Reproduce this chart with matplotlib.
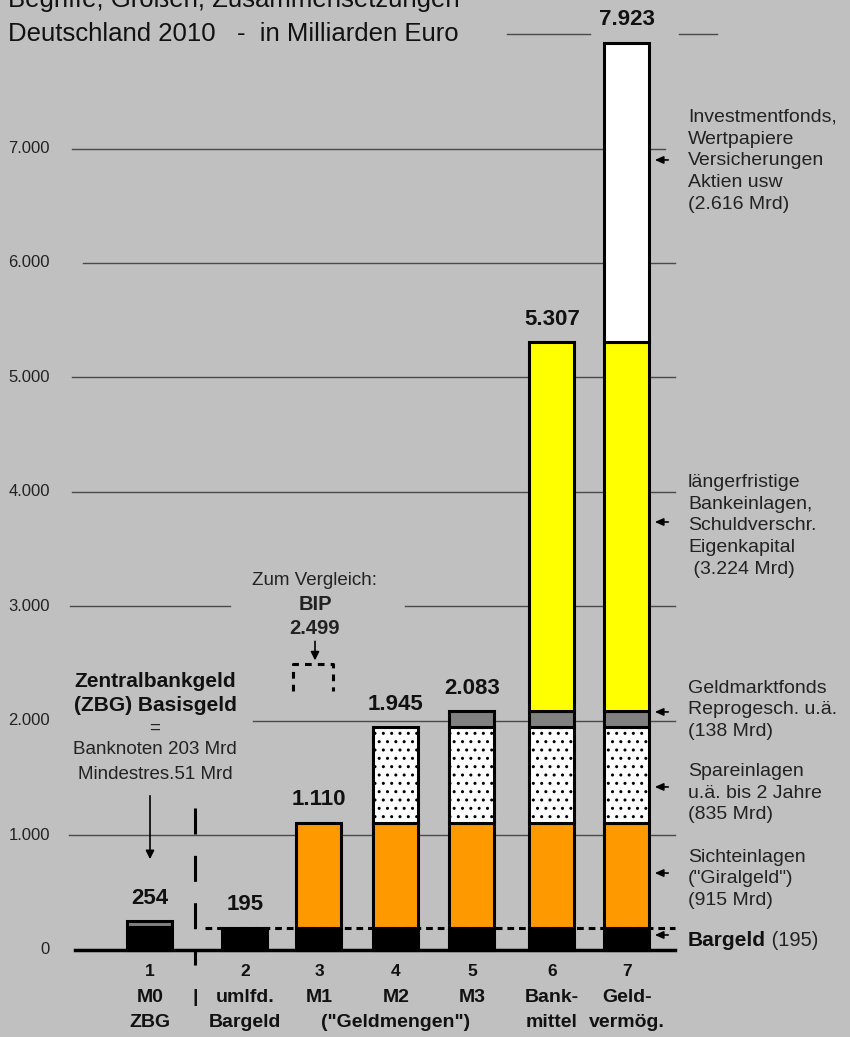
import matplotlib.pyplot as plt

plt.rcParams['font.family'] = ['Liberation Sans', 'DejaVu Sans']

BG = '#C0C0C0'

# data (Mrd Euro, Deutschland 2010)
nums = ['1', '2', '3', '4', '5', '6', '7']
row2 = ['M0', 'umlfd.', 'M1', 'M2', 'M3', 'Bank-', 'Geld-']
row3 = ['ZBG', 'Bargeld', '', '', '', 'mittel', 'vermög.']
totals = [254, 195, 1110, 1945, 2083, 5307, 7923]
total_labels = ['254', '195', '1.110', '1.945', '2.083', '5.307', '7.923']

bargeld = [203, 195, 195, 195, 195, 195, 195]
mindestres = [51, 0, 0, 0, 0, 0, 0]
sicht = [0, 0, 915, 915, 915, 915, 915]
spar = [0, 0, 0, 835, 835, 835, 835]
geldmarkt = [0, 0, 0, 0, 138, 138, 138]
laenger = [0, 0, 0, 0, 0, 3224, 3224]
invest = [0, 0, 0, 0, 0, 0, 2616]
bip = 2499

yticks = [0, 1000, 2000, 3000, 4000, 5000, 6000, 7000]
ytick_labels = ['0', '1.000', '2.000', '3.000', '4.000', '5.000', '6.000', '7.000']

# layout
xpos = [150, 245, 319, 396, 472, 552, 627]
W = 45

fig = plt.figure(figsize=(8.5, 10.37), dpi=100)
fig.patch.set_facecolor(BG)
ax = fig.add_axes([0, 0, 1, 1])
ax.set_facecolor(BG)
ax.axis('off')
ax.set_xlim(0, 850)
ax.set_ylim(-760, 8297)

# broken gridlines
grid = {8000: [(507, 590), (679, 717)], 7000: [(72, 665)], 6000: [(83, 675)],
        5000: [(72, 675)], 4000: [(72, 675)], 3000: [(70, 230), (405, 675)],
        2000: [(253, 675)], 1000: [(69, 675)]}
for yv, segs in grid.items():
    for x0, x1 in segs:
        ax.plot([x0, x1], [yv, yv], color='#4a4a4a', lw=1, zorder=1)
ax.plot([75, 675], [0, 0], color='black', lw=2.5, zorder=2)

for yv, lab in zip(yticks, ytick_labels):
    ax.text(50, yv, lab, ha='right', va='center', fontsize=12, color='#222222')

# stacked bars
layers = [(bargeld, 'black', None), (mindestres, '#808080', None), (sicht, '#FF9900', None),
          (spar, 'white', '..'), (geldmarkt, '#808080', None), (laenger, '#FFFF00', None),
          (invest, 'white', None)]
bottom = [0] * 7
for vals, col, hatch in layers:
    for i, v in enumerate(vals):
        if v > 0:
            ax.bar(xpos[i], v, bottom=bottom[i], width=W, color=col, edgecolor='black',
                   lw=2.2, hatch=hatch, zorder=3)
            bottom[i] += v

for x, t, lab in zip(xpos, totals, total_labels):
    ax.text(x, t + 200, lab, ha='center', va='center', fontsize=16, fontweight='bold', color='#111111')

# dashed lines
ax.plot([205, 675], [195, 195], color='black', lw=2.2, ls=(0, (2.2, 1.6)), zorder=4)
ax.plot([195, 195], [1240, -131], color='black', lw=2.2, ls=(0, (8.5, 7)), zorder=4)
ax.plot([293, 293, 333, 333], [2260, bip, bip, 2260], color='black', lw=2.2,
        ls=(0, (2.2, 2.0)), zorder=4)

# BIP
ax.text(315, 3231, 'Zum Vergleich:', ha='center', va='center', fontsize=13.5, color='#222222')
ax.text(315, 3021, 'BIP', ha='center', va='center', fontsize=14.5, fontweight='bold', color='#222222')
ax.text(315, 2811, '2.499', ha='center', va='center', fontsize=14.5, fontweight='bold', color='#222222')
ax.annotate('', xy=(315, 2505), xytext=(315, 2720),
            arrowprops=dict(arrowstyle='-|>,head_length=0.5,head_width=0.25', color='black', lw=1.2))

# Zentralbankgeld
ax.text(155, 2341, 'Zentralbankgeld', ha='center', va='center', fontsize=15, fontweight='bold', color='#111111')
ax.text(155, 2131, '(ZBG) Basisgeld', ha='center', va='center', fontsize=15, fontweight='bold', color='#111111')
ax.text(155, 1939, '=', ha='center', va='center', fontsize=13.5, color='#222222')
ax.text(155, 1747, 'Banknoten 203 Mrd', ha='center', va='center', fontsize=13.5, color='#222222')
ax.text(155, 1537, 'Mindestres.51 Mrd', ha='center', va='center', fontsize=13.5, color='#222222')
ax.annotate('', xy=(150, 769), xytext=(150, 1371),
            arrowprops=dict(arrowstyle='-|>,head_length=0.5,head_width=0.25', color='black', lw=1.2))

# right side labels
right = [(6891, 'Investmentfonds,\nWertpapiere\nVersicherungen\nAktien usw\n(2.616 Mrd)'),
         (3703, 'längerfristige\nBankeinlagen,\nSchuldverschr.\nEigenkapital\n (3.224 Mrd)'),
         (2096, 'Geldmarktfonds\nReprogesch. u.ä.\n(138 Mrd)'),
         (1371, 'Spareinlagen\nu.ä. bis 2 Jahre\n(835 Mrd)'),
         (620, 'Sichteinlagen\n("Giralgeld")\n(915 Mrd)')]
arrow_y = [6900, 3738, 2079, 1424, 672, 131]
for yv, txt in right:
    ax.text(688, yv, txt, ha='left', va='center', fontsize=14, color='#222222', linespacing=1.38)
for yv in arrow_y:
    ax.annotate('', xy=(652, yv), xytext=(671, yv),
                arrowprops=dict(arrowstyle='-|>,head_length=0.5,head_width=0.22', color='black', lw=1.2))
t = ax.text(688, 87, 'Bargeld', ha='left', va='center', fontsize=15, fontweight='bold', color='#111111')
ax.annotate(' (195)', xy=(1, 0.5), xycoords=t, ha='left', va='center', fontsize=14.5, color='#222222')

# bottom labels
for x, a, b, c in zip(xpos, nums, row2, row3):
    ax.text(x, -192, a, ha='center', va='center', fontsize=12.5, fontweight='bold', color='#111111')
    ax.text(x, -419, b, ha='center', va='center', fontsize=14, fontweight='bold', color='#111111')
    if c:
        ax.text(x, -629, c, ha='center', va='center', fontsize=14, fontweight='bold', color='#111111')
ax.text(195, -419, '|', ha='center', va='center', fontsize=14, fontweight='bold', color='#111111')
ax.text(xpos[3], -629, '("Geldmengen")', ha='center', va='center', fontsize=14, fontweight='bold', color='#111111')

# title (first line cut by the top edge)
fig.text(0.01, 1 - 7 / 1037, 'Begriffe, Größen, Zusammensetzungen', ha='left', va='baseline',
         fontsize=18.5, color='#111111')
fig.text(0.01, 1 - 41 / 1037, 'Deutschland 2010   -  in Milliarden Euro', ha='left', va='baseline',
         fontsize=18.5, color='#111111')

fig.savefig('out.png', dpi=100, facecolor=BG)
